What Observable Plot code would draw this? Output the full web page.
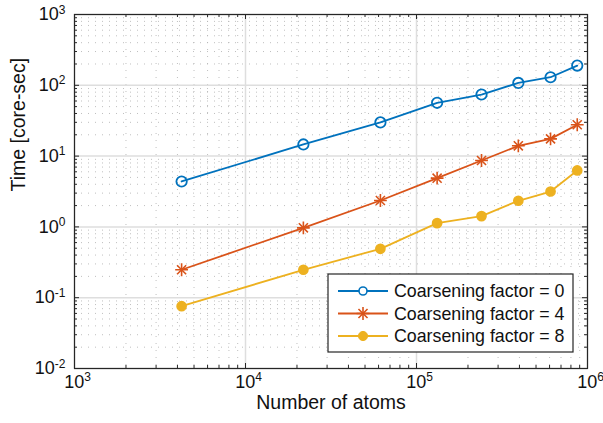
<!DOCTYPE html>
<html>
<head>
<meta charset="utf-8">
<script src="https://cdn.jsdelivr.net/npm/d3@7"></script>
<script src="https://cdn.jsdelivr.net/npm/@observablehq/plot@0.6"></script>
<style>
  html, body { margin: 0; padding: 0; background: #fff; }
  #chart { width: 603px; height: 423px; }
</style>
</head>
<body>
<div id="chart"></div>
<script>
// ---- data ----
const atoms = [4230, 21800, 61500, 132000, 240000, 394000, 608000, 871000];
const timeCF0 = [4.38, 14.6, 29.9, 56.6, 74.1, 108, 130, 190];
const timeCF4 = [0.248, 0.97, 2.36, 4.88, 8.67, 13.97, 17.5, 27.7];
const timeCF8 = [0.0759, 0.248, 0.49, 1.13, 1.42, 2.34, 3.16, 6.27];
const seriesNames = ["Coarsening factor = 0", "Coarsening factor = 4", "Coarsening factor = 8"];
const seriesColors = ["#0072BD", "#D95319", "#EDB120"];
const xTickLabels = ["10^3", "10^4", "10^5", "10^6"];
const yTickLabels = ["10^-2", "10^-1", "10^0", "10^1", "10^2", "10^3"];
const xLabel = "Number of atoms";
const yLabel = "Time [core-sec]";

// ---- derived tables ----
const xMajor = xTickLabels.map(s => Math.pow(10, +s.split("^")[1]));
const yMajor = yTickLabels.map(s => Math.pow(10, +s.split("^")[1]));
const minorOf = majors => {
  const out = [];
  for (let i = 0; i < majors.length - 1; i++)
    for (let m = 2; m <= 9; m++) out.push(majors[i] * m);
  return out;
};
const xMinor = minorOf(xMajor);
const yMinor = minorOf(yMajor);
const allSeries = [timeCF0, timeCF4, timeCF8];
const rows = [];
allSeries.forEach((vals, si) => vals.forEach((v, i) => rows.push({s: seriesNames[si], x: atoms[i], y: v})));
const bySeries = name => rows.filter(r => r.s === name);

const W = 603, H = 423, mL = 74, mR = 16, mT = 14, mB = 55;
const plotW = W - mL - mR, plotH = H - mT - mB;
const axisColor = "#262626";
const font = "'Liberation Sans', Arial, Helvetica, sans-serif";

const plot = Plot.plot({
  width: W, height: H,
  marginLeft: mL, marginRight: mR, marginTop: mT, marginBottom: mB,
  style: {fontFamily: font, background: "#fff", color: axisColor, overflow: "visible"},
  x: {type: "log", domain: [xMajor[0], xMajor[xMajor.length - 1]], axis: null},
  y: {type: "log", domain: [yMajor[0], yMajor[yMajor.length - 1]], axis: null},
  marks: [
    // minor grid (dotted)
    Plot.gridX(xMinor, {stroke: "#b4b4b4", strokeOpacity: 0.85, strokeWidth: 1, strokeDasharray: "1,6"}),
    Plot.gridY(yMinor, {stroke: "#b4b4b4", strokeOpacity: 0.85, strokeWidth: 1, strokeDasharray: "1,6"}),
    // major grid
    Plot.gridX(xMajor, {stroke: "#dedede", strokeOpacity: 1, strokeWidth: 1.5}),
    Plot.gridY(yMajor, {stroke: "#dedede", strokeOpacity: 1, strokeWidth: 1.5}),
    // series 0
    Plot.line(bySeries(seriesNames[0]), {x: "x", y: "y", stroke: seriesColors[0], strokeWidth: 1.8}),
    Plot.dot(bySeries(seriesNames[0]), {x: "x", y: "y", r: 5.2, stroke: seriesColors[0], strokeWidth: 1.8, fill: "none"}),
    // series 4
    Plot.line(bySeries(seriesNames[1]), {x: "x", y: "y", stroke: seriesColors[1], strokeWidth: 1.8}),
    Plot.dot(bySeries(seriesNames[1]), {x: "x", y: "y", r: 4.2, symbol: "plus", stroke: seriesColors[1], strokeWidth: 1.6}),
    Plot.dot(bySeries(seriesNames[1]), {x: "x", y: "y", r: 4.2, symbol: "times", stroke: seriesColors[1], strokeWidth: 1.6}),
    // series 8
    Plot.line(bySeries(seriesNames[2]), {x: "x", y: "y", stroke: seriesColors[2], strokeWidth: 1.8}),
    Plot.dot(bySeries(seriesNames[2]), {x: "x", y: "y", r: 4.6, fill: seriesColors[2], stroke: seriesColors[2]}),
    // inward ticks on all four sides
    Plot.tickX(xMajor, {x: d => d, insetTop: plotH - 5, stroke: axisColor}),
    Plot.tickX(xMajor, {x: d => d, insetBottom: plotH - 5, stroke: axisColor}),
    Plot.tickX(xMinor, {x: d => d, insetTop: plotH - 3, stroke: axisColor}),
    Plot.tickX(xMinor, {x: d => d, insetBottom: plotH - 3, stroke: axisColor}),
    Plot.tickY(yMajor, {y: d => d, insetRight: plotW - 5, stroke: axisColor}),
    Plot.tickY(yMajor, {y: d => d, insetLeft: plotW - 5, stroke: axisColor}),
    Plot.tickY(yMinor, {y: d => d, insetRight: plotW - 3, stroke: axisColor}),
    Plot.tickY(yMinor, {y: d => d, insetLeft: plotW - 3, stroke: axisColor}),
    Plot.frame({stroke: axisColor, strokeWidth: 1.2}),
    // tick labels
    Plot.text(xMajor, {x: d => d, frameAnchor: "bottom", dy: 19, dx: 3, text: (d, i) => xTickLabels[i], fontSize: 18, fill: "#111"}),
    Plot.text(yMajor, {y: d => d, frameAnchor: "left", dx: -9, textAnchor: "end", text: (d, i) => yTickLabels[i], fontSize: 18, fill: "#111"}),
    // axis labels
    Plot.text([xLabel], {frameAnchor: "bottom", dy: 40, text: d => d, fontSize: 19.5, fill: "#111"}),
    Plot.text([yLabel], {frameAnchor: "left", dx: -56, rotate: -90, text: d => d, fontSize: 19.5, fill: "#111"})
  ]
});

const svg = d3.select(plot);
// superscript exponents
svg.selectAll("text").each(function () {
  const s = this.textContent;
  if (s.indexOf("^") < 0) return;
  const parts = s.split("^");
  const t = d3.select(this);
  t.text(parts[0]);
  t.append("tspan").attr("dy", "-0.55em").attr("font-size", "12px").text(parts[1]);
});

// legend box (inside the axes, lower right)
const lg = svg.append("g").attr("font-family", font).attr("font-size", 17.8).attr("text-anchor", "start");
const lx = 328, ly = 274, lw = 245, lh = 78;
lg.append("rect").attr("x", lx).attr("y", ly).attr("width", lw).attr("height", lh)
  .attr("fill", "#fff").attr("stroke", axisColor).attr("stroke-width", 1.2);
seriesNames.forEach((name, i) => {
  const cy = ly + 17 + i * 22.5;
  const c = seriesColors[i];
  lg.append("line").attr("x1", lx + 10).attr("x2", lx + 60).attr("y1", cy).attr("y2", cy)
    .attr("stroke", c).attr("stroke-width", 1.8);
  const mx = lx + 35;
  if (i === 0) {
    lg.append("circle").attr("cx", mx).attr("cy", cy).attr("r", 4).attr("fill", "#fff")
      .attr("stroke", c).attr("stroke-width", 1.6);
  } else if (i === 1) {
    const sz = Math.PI * 4.2 * 4.2;
    [d3.symbolPlus, d3.symbolTimes].forEach(tp => {
      lg.append("path").attr("d", d3.symbol().type(tp).size(sz)())
        .attr("transform", `translate(${mx},${cy})`).attr("stroke", c).attr("stroke-width", 1.6).attr("fill", "none");
    });
  } else {
    lg.append("circle").attr("cx", mx).attr("cy", cy).attr("r", 4.6).attr("fill", c).attr("stroke", c);
  }
  lg.append("text").attr("x", lx + 66).attr("y", cy).attr("dy", "0.35em").attr("fill", "#111").text(name);
});

document.getElementById("chart").appendChild(plot);
</script>
</body>
</html>
